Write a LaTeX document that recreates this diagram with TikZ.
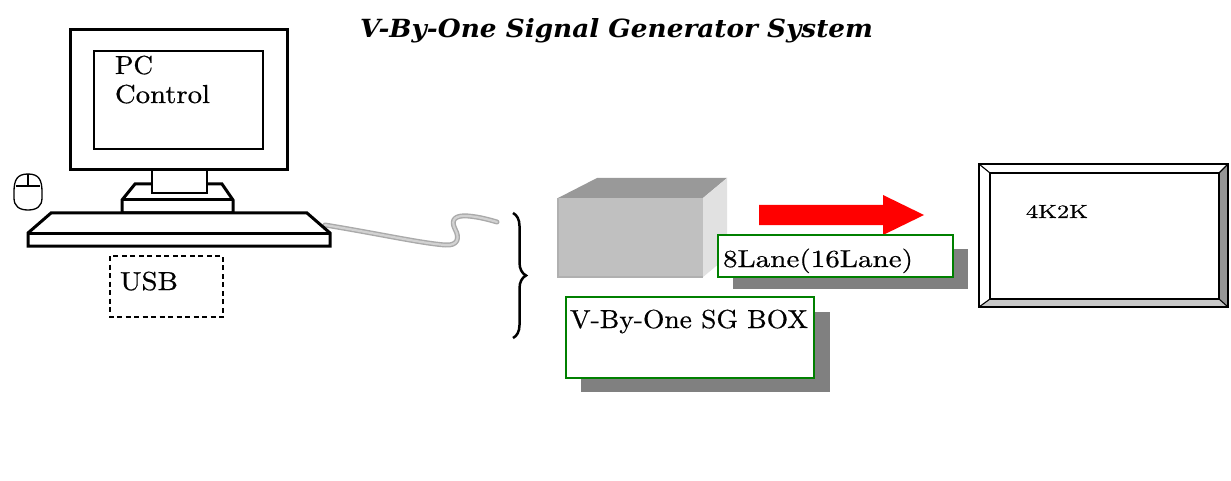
\documentclass[tikz,border=0pt]{standalone}
\usepackage{graphicx}
\usepackage{fontspec}
\newfontfamily\titlefont{DejaVu Serif}
\newfontfamily\bodyfont{lmroman10-regular.otf}[FakeBold=0.5]
\usetikzlibrary{decorations.pathreplacing}
\definecolor{boxgreen}{RGB}{0,128,0}
\definecolor{shadowgray}{RGB}{128,128,128}
\definecolor{topgray}{RGB}{153,153,153}
\definecolor{frontgray}{RGB}{192,192,192}
\definecolor{frontedge}{RGB}{176,176,176}
\definecolor{sidegray}{RGB}{225,225,225}
\definecolor{cableedge}{RGB}{170,170,170}
\definecolor{cablemid}{RGB}{210,210,210}
\definecolor{bevelright}{RGB}{150,150,150}
\definecolor{bevelbottom}{RGB}{200,200,200}
\newcommand\fittext[3]{\resizebox{#1pt}{\height}{\fontsize{#2}{#2}\selectfont #3}}
\tikzset{
  lbl/.style={anchor=base west, inner sep=0pt, outer sep=0pt, font=\bodyfont},
  pcline/.style={line width=3pt, line join=miter, fill=white},
  thinpc/.style={line width=1.6pt, fill=white},
  greenbox/.style={draw=boxgreen, line width=1.6pt, fill=white},
  shadowbox/.style={fill=shadowgray},
  cablepath/.style={line cap=round, line join=round},
}
\begin{document}
\begin{tikzpicture}[x=1pt,y=-1pt]
\useasboundingbox (0,0) rectangle (1231,481);
\fill[white] (0,0) rectangle (1231,481);

% title
\node[lbl] (title) at (360,38) {\fittext{513}{25}{\titlefont\bfseries\itshape V-By-One Signal Generator System}};

% PC monitor
\draw[pcline] (70,30) rectangle (287,170);
\draw[thinpc] (94,51) rectangle (263,149);
\draw[pcline] (135,184) -- (222,184) -- (233,200) -- (233,213) -- (122,213) -- (122,200) -- cycle;
\draw[line width=3pt] (122,200) -- (233,200);
\draw[thinpc, line width=2pt] (152,170) rectangle (207,193);
% keyboard
\coordinate (kbdR) at (325,225);
\coordinate (cableEnd) at (497,222);
\draw[cableedge, cablepath, line width=5pt] (kbdR) .. controls (380,234) and (420,243) .. (445,245) .. controls (458,246) and (460,238) .. (455,229) .. controls (450,219) and (456,215) .. (468,216) .. controls (480,217) and (490,220) .. (cableEnd);
\draw[cablemid, cablepath, line width=2.2pt] (kbdR) .. controls (380,234) and (420,243) .. (445,245) .. controls (458,246) and (460,238) .. (455,229) .. controls (450,219) and (456,215) .. (468,216) .. controls (480,217) and (490,220) .. (cableEnd);
\draw[pcline] (51,213) -- (307,213) -- (330,233) -- (330,246) -- (28,246) -- (28,233) -- cycle;
\draw[line width=3pt] (28,233) -- (330,233);
% mouse
\draw[line width=1.3pt, fill=white] (14,192) .. controls (14,180) and (17,174) .. (28,174) .. controls (39,174) and (42,180) .. (42,192) -- (42,198) .. controls (42,206) and (37,210) .. (28,210) .. controls (19,210) and (14,206) .. (14,198) -- cycle;
\draw[line width=1.1pt] (16,186) -- (40,186);
\draw[line width=1.1pt] (28,174) -- (28,186);

\node[lbl] (pc) at (115,74) {\fittext{38}{26}{PC}};
\node[lbl] (control) at (115,103) {\fittext{95}{26}{Control}};

% USB
\draw[line width=1.3pt, dash pattern=on 5pt off 3.5pt] (110,256) rectangle (223,317);
\node[lbl] (usb) at (120,290) {\fittext{58}{26}{USB}};

% brace
\draw[decorate, decoration={brace, amplitude=13pt}, line width=2.5pt] (513,213) -- (513,338);

% 3D box
\fill[topgray] (558,198) -- (597,178) -- (727,178) -- (703,198) -- cycle;
\fill[sidegray] (703,198) -- (727,178) -- (727,257) -- (703,277) -- cycle;
\fill[frontgray] (558,198) rectangle (703,277);
\draw[frontedge, line width=1.5pt] (558,198) -- (558,277) -- (703,277);

% red arrow
\fill[red] (759,205) -- (883,205) -- (883,195) -- (924,215) -- (883,235) -- (883,225) -- (759,225) -- cycle;

% 8Lane box
\fill[shadowbox] (733,249) rectangle (968,289);
\draw[greenbox] (718,235) rectangle (953,277);
\node[lbl] (lane) at (723,267) {\fittext{190}{24.5}{8Lane(16Lane)}};

% SG box label
\fill[shadowbox] (581,312) rectangle (830,392);
\draw[greenbox] (566,297) rectangle (814,378);
\node[lbl] (sgbox) at (570,328) {\fittext{238}{26}{V-By-One SG BOX}};

% 4K2K display
\fill[white] (979,164) rectangle (1228,307);
\fill[bevelright] (1219,173) -- (1228,164) -- (1228,307) -- (1219,299) -- cycle;
\fill[bevelbottom] (990,299) -- (1219,299) -- (1228,307) -- (979,307) -- cycle;
\draw[line width=1.8pt] (979,164) rectangle (1228,307);
\draw[line width=1.8pt] (990,173) rectangle (1219,299);
\draw[line width=1.1pt] (979,164) -- (990,173) (1228,164) -- (1219,173) (979,307) -- (990,299) (1228,307) -- (1219,299);
\node[lbl] (fourk) at (1026,218) {\fittext{62}{19}{4K2K}};
\end{tikzpicture}
\end{document}
